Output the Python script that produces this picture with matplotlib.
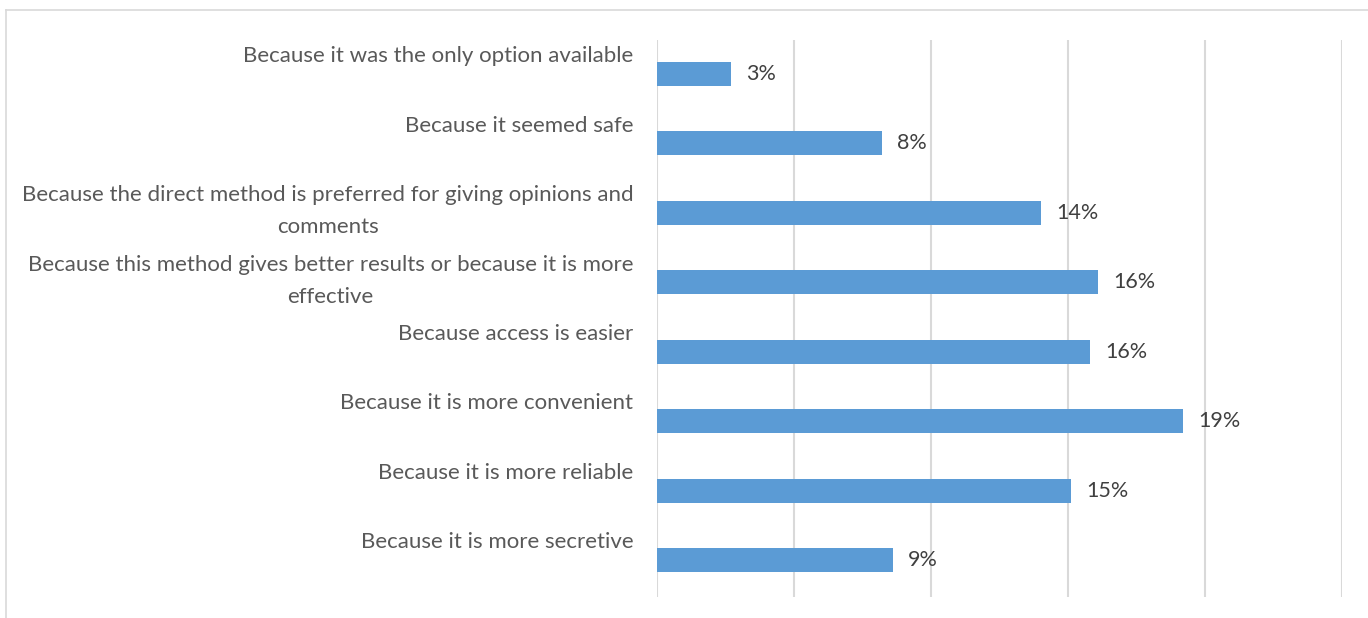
import matplotlib.pyplot as plt
from matplotlib.lines import Line2D

reasons = [
    'Because it was the only option available',
    'Because it seemed safe',
    'Because the direct method is preferred for giving opinions and\ncomments',
    'Because this method gives better results or because it is more\neffective',
    'Because access is easier',
    'Because it is more convenient',
    'Because it is more reliable',
    'Because it is more secretive',
]
shares = [2.7, 8.2, 14.0, 16.1, 15.8, 19.2, 15.1, 8.6]  # percent

bar_color = '#5B9BD5'
grid_color = '#D9D9D9'
label_color = '#595959'
value_color = '#404040'

plt.rcParams['font.family'] = ['Lato', 'DejaVu Sans']

fig = plt.figure(figsize=(13.68, 6.18), dpi=100)
ax = fig.add_axes([0.4803, 0.0340, 0.5007, 0.9013])

y = list(range(len(reasons)))
ax.barh(y, shares, height=0.345, color=bar_color, zorder=3)

ax.set_xlim(0, 25)
ax.set_ylim(7.53, -0.49)
ax.set_xticks([0, 5, 10, 15, 20, 25])
ax.xaxis.grid(True, color=grid_color, linewidth=1.5)
ax.tick_params(axis='both', length=0, labelbottom=False, labelleft=False)
ax.set_yticks([])
for s in ax.spines.values():
    s.set_visible(False)

# category text sits above each bar, right aligned before the axis
for i, txt in enumerate(reasons):
    ax.annotate(txt, xy=(0, i), xycoords=('axes fraction', 'data'),
                xytext=(-17, 20), textcoords='offset points',
                ha='right', va='top', multialignment='center',
                fontsize=16, color=label_color, linespacing=1.75)

for i, v in enumerate(shares):
    ax.annotate(f'{v:.0f}%', xy=(v, i), xytext=(11, 0), textcoords='offset points',
                ha='left', va='center', fontsize=15.5, color=value_color)

# chart border
fig.add_artist(Line2D([0.0045, 1.0], [0.984, 0.984], color=grid_color, linewidth=1.2))
fig.add_artist(Line2D([0.0045, 0.0045], [0.0, 0.984], color=grid_color, linewidth=1.2))

fig.savefig('out.png', dpi=100)
